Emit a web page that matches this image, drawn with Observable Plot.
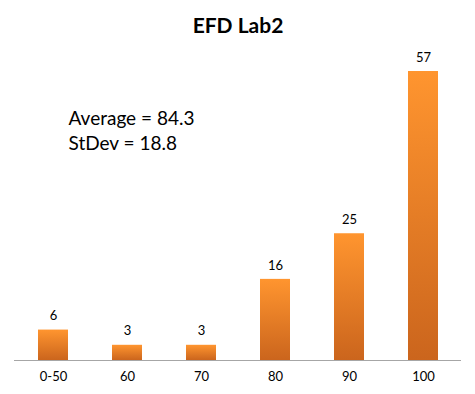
<!DOCTYPE html>
<html>
<head>
<meta charset="utf-8">
<script src="https://cdn.jsdelivr.net/npm/d3@7"></script>
<script src="https://cdn.jsdelivr.net/npm/@observablehq/plot@0.6"></script>
<style>
  html, body { margin: 0; padding: 0; background: #fff; }
</style>
</head>
<body>
<div id="chart"></div>
<script>
const categories = ["0-50", "60", "70", "80", "90", "100"];
const counts = [6, 3, 3, 16, 25, 57];
const title = "EFD Lab2";
const averageNote = "Average = 84.3";
const stdevNote = "StDev = 18.8";

const data = categories.map((c, i) => ({category: c, count: counts[i]}));
const font = "Lato, 'Open Sans', sans-serif";

const svg = Plot.plot({
  width: 475,
  height: 394,
  marginTop: 71,
  marginBottom: 34,
  marginLeft: 14,
  marginRight: 14,
  style: {fontFamily: font, background: "#fff", color: "#000"},
  x: {domain: categories, paddingInner: 0.6, paddingOuter: 0.3, label: null},
  y: {domain: [0, 57], axis: null},
  marks: [
    Plot.barY(data, {x: "category", y: "count", fill: "url(#barGrad)"}),
    Plot.ruleY([0], {stroke: "#a6a6a6", strokeWidth: 1}),
    Plot.text(data, {x: "category", y: "count", text: d => String(d.count), dy: -14, lineAnchor: "middle", fontSize: 13, fill: "#000"}),
    Plot.axisX({tickSize: 0, tickPadding: 11, fontSize: 13, fill: "#000"}),
    Plot.text([title], {frameAnchor: "top", dy: -45, lineAnchor: "middle", fontSize: 21, fontWeight: "bold", fill: "#000"}),
    Plot.text([averageNote], {frameAnchor: "top-left", dx: 54, dy: 47, lineAnchor: "middle", textAnchor: "start", fontSize: 19, fill: "#000"}),
    Plot.text([stdevNote], {frameAnchor: "top-left", dx: 54, dy: 72, lineAnchor: "middle", textAnchor: "start", fontSize: 19, fill: "#000"})
  ]
});

const defs = d3.select(svg).insert("defs", ":first-child");
const grad = defs.append("linearGradient")
  .attr("id", "barGrad")
  .attr("x1", 0).attr("y1", 0).attr("x2", 0).attr("y2", 1);
grad.append("stop").attr("offset", "0%").attr("stop-color", "#ff952f");
grad.append("stop").attr("offset", "100%").attr("stop-color", "#cb651d");

document.getElementById("chart").appendChild(svg);
</script>
</body>
</html>
